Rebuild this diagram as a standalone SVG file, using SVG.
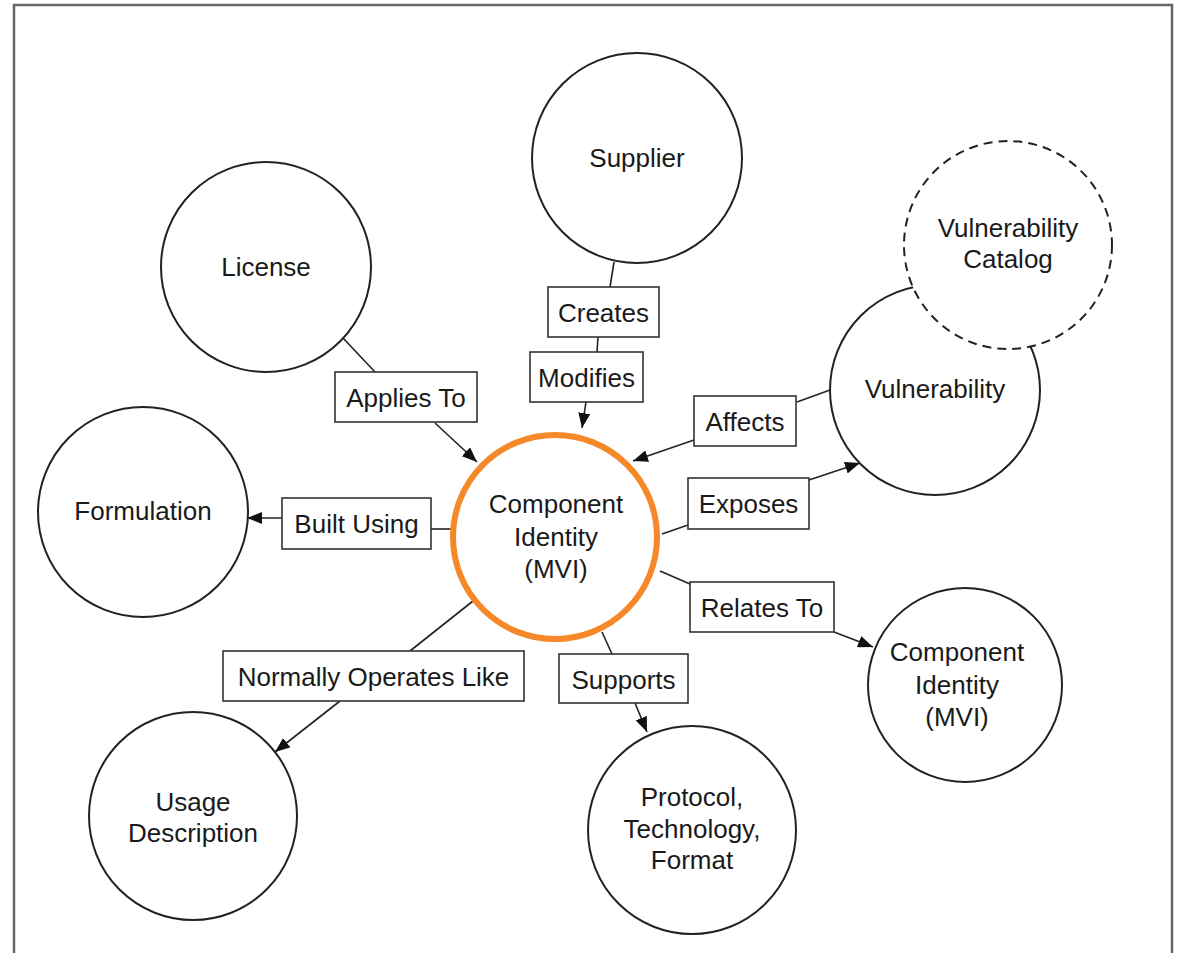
<svg xmlns="http://www.w3.org/2000/svg" width="1179" height="953" viewBox="0 0 1179 953">
<style>
.n{fill:#fff;stroke:#222;stroke-width:2}
.d{fill:#fff;stroke:#222;stroke-width:2;stroke-dasharray:9 6}
.c{fill:#fff;stroke:#F5892A;stroke-width:6}
.b{fill:#fff;stroke:#333;stroke-width:1.6}
.l{fill:none;stroke:#222;stroke-width:1.6}
text{font-family:"Liberation Sans",Arial,sans-serif;font-size:26px;fill:#1a1a1a;text-anchor:middle}
</style>
<defs>
<marker id="a" markerUnits="userSpaceOnUse" markerWidth="16" markerHeight="12" refX="15" refY="6" orient="auto">
<path d="M0,0 L15,6 L0,12 z" fill="#111"/>
</marker>
</defs>
<rect width="1179" height="953" fill="#fff"/>
<path d="M14,960 L14,5 L1172,5 L1172,960" fill="none" stroke="#666" stroke-width="2.5"/>
<g id="connectors">
<path class="l" d="M614,262 L610,287"/>
<path class="l" d="M598,337 L597,352"/>
<path class="l" d="M586,402 L582,428" marker-end="url(#a)"/>
<path class="l" d="M343,338 L375,372"/>
<path class="l" d="M435,423 L477,462" marker-end="url(#a)"/>
<path class="l" d="M830,390 L797,402"/>
<path class="l" d="M694,440 L633,461" marker-end="url(#a)"/>
<path class="l" d="M662,534 L688,525"/>
<path class="l" d="M809,480 L860,463" marker-end="url(#a)"/>
<path class="l" d="M282,518 L247,518" marker-end="url(#a)"/>
<path class="l" d="M431,529 L452,529"/>
<path class="l" d="M473,601 L410,651"/>
<path class="l" d="M340,701 L275,752" marker-end="url(#a)"/>
<path class="l" d="M602,632 L612,654"/>
<path class="l" d="M635,703 L647,732" marker-end="url(#a)"/>
<path class="l" d="M660,571 L690,584"/>
<path class="l" d="M834,632 L873,647" marker-end="url(#a)"/>
</g>
<g id="supplier"><circle class="n" cx="637" cy="158" r="105"/><text x="637" y="167">Supplier</text></g>
<g id="license"><circle class="n" cx="266" cy="267" r="105"/><text x="266" y="276">License</text></g>
<g id="vulnerability"><circle class="n" cx="935" cy="390" r="105"/><text x="935" y="398">Vulnerability</text></g>
<g id="vulnerability-catalog"><circle class="d" cx="1008" cy="245" r="104"/><text x="1008" y="237">Vulnerability</text><text x="1008" y="268">Catalog</text></g>
<g id="formulation"><circle class="n" cx="143" cy="512" r="105"/><text x="143" y="520">Formulation</text></g>
<g id="component-identity"><circle class="c" cx="555" cy="537" r="102"/><text x="556" y="513">Component</text><text x="556" y="546">Identity</text><text x="556" y="578">(MVI)</text></g>
<g id="component-identity-2"><circle class="n" cx="965" cy="685" r="97"/><text x="957" y="661">Component</text><text x="957" y="694">Identity</text><text x="957" y="726">(MVI)</text></g>
<g id="usage-description"><circle class="n" cx="193" cy="816" r="104"/><text x="193" y="811">Usage</text><text x="193" y="842">Description</text></g>
<g id="protocol"><circle class="n" cx="692" cy="830" r="104"/><text x="692" y="806">Protocol,</text><text x="692" y="838">Technology,</text><text x="692" y="869">Format</text></g>
<g id="lbl-creates"><rect class="b" x="548" y="287" width="111" height="50"/><text x="603.5" y="322">Creates</text></g>
<g id="lbl-modifies"><rect class="b" x="530" y="352" width="113" height="50"/><text x="586.5" y="387">Modifies</text></g>
<g id="lbl-applies"><rect class="b" x="335" y="372" width="142" height="50"/><text x="406" y="407">Applies To</text></g>
<g id="lbl-affects"><rect class="b" x="694" y="396" width="102" height="50"/><text x="745" y="431">Affects</text></g>
<g id="lbl-exposes"><rect class="b" x="688" y="478" width="121" height="51"/><text x="748.5" y="513">Exposes</text></g>
<g id="lbl-built"><rect class="b" x="282" y="498" width="149" height="51"/><text x="356.5" y="533">Built Using</text></g>
<g id="lbl-normally"><rect class="b" x="223" y="651" width="301" height="50"/><text x="373.5" y="686">Normally Operates Like</text></g>
<g id="lbl-supports"><rect class="b" x="559" y="654" width="129" height="49"/><text x="623.5" y="689">Supports</text></g>
<g id="lbl-relates"><rect class="b" x="690" y="582" width="144" height="50"/><text x="762" y="617">Relates To</text></g>
</svg>
